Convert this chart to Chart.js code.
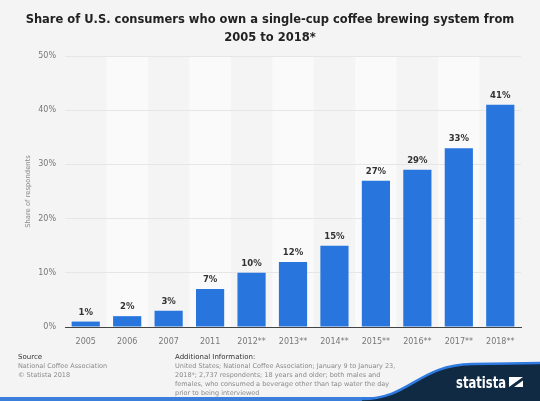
<!DOCTYPE html>
<html>
<head>
<meta charset="utf-8">
<script src="https://cdn.jsdelivr.net/npm/chart.js@4"></script>
<style>
  html, body { margin: 0; padding: 0; background: #f4f4f4; }
  #wrap { position: relative; width: 540px; height: 401px; overflow: hidden; font-family: "DejaVu Sans", sans-serif; }
  #chart { position: absolute; left: 0; top: 0; }
  #title { position: absolute; left: 0; top: 10px; width: 540px; text-align: center; font-weight: bold; font-size: 11.5px; line-height: 18px; color: #222; white-space: nowrap; }
  .foot { position: absolute; font-size: 6.5px; line-height: 9px; color: #8a8a8a; white-space: nowrap; }
  .foot b { display: block; font-weight: normal; font-size: 7px; color: #333; line-height: 10px; }
  #deco { position: absolute; left: 0; top: 0; }
</style>
</head>
<body>
<div id="wrap">
  <canvas id="chart" width="540" height="401"></canvas>
  <div id="title">Share of U.S. consumers who own a single-cup coffee brewing system from<br>2005 to 2018*</div>
  <svg id="deco" width="540" height="401" viewBox="0 0 540 401">
    <rect x="0" y="397" width="540" height="4" fill="#3b7fdc"/>
    <path d="M362 399 C410 399 418 365 472 364 L540 363 L540 401 L362 401 Z" fill="#0f2a42"/>
    <path d="M362 399 C410 399 418 365 472 364 L540 363" fill="none" stroke="#2f7ae0" stroke-width="2.5"/>
    <text x="456" y="388" fill="#fff" font-family="DejaVu Sans Condensed, DejaVu Sans" font-weight="bold" font-size="15" textLength="50" lengthAdjust="spacingAndGlyphs">statista</text>
    <rect x="509" y="377" width="14" height="10" fill="#fff"/>
    <path d="M509 387 L523 377 L523 380.5 L514 387 Z" fill="#0f2a42"/>
  </svg>
  <div class="foot" style="left:18px; top:352px;">
    <b>Source</b>
    National Coffee Association<br>© Statista 2018
  </div>
  <div class="foot" style="left:175px; top:352px;">
    <b>Additional Information:</b>
    United States; National Coffee Association; January 9 to January 23,<br>2018*; 2,737 respondents; 18 years and older; both males and<br>females, who consumed a beverage other than tap water the day<br>prior to being interviewed
  </div>
</div>
<script>
const years = ['2005', '2006', '2007', '2011', '2012**', '2013**', '2014**', '2015**', '2016**', '2017**', '2018**'];
const shares = [1, 2, 3, 7, 10, 12, 15, 27, 29, 33, 41];
const yTicks = [0, 10, 20, 30, 40, 50];

// light bands behind every other category
const bands = {
    id: 'bands',
    beforeDraw(chart) {
        const { ctx, chartArea, scales } = chart;
        const step = (chartArea.right - chartArea.left) / years.length;
        ctx.save();
        ctx.fillStyle = '#fafafa';
        years.forEach((y, i) => {
            if (i % 2 === 1) {
                const cx = scales.x.getPixelForValue(i);
                ctx.fillRect(cx - step / 2, chartArea.top, step, chartArea.bottom - chartArea.top);
            }
        });
        ctx.restore();
    },
};

// value labels above bars
const valueLabels = {
    id: 'valueLabels',
    afterDatasetsDraw(chart) {
        const { ctx } = chart;
        const meta = chart.getDatasetMeta(0);
        ctx.save();
        ctx.font = 'bold 8.5px "DejaVu Sans"';
        ctx.fillStyle = '#333';
        ctx.textAlign = 'center';
        ctx.textBaseline = 'bottom';
        meta.data.forEach((bar, i) => {
            ctx.fillText(shares[i] + '%', bar.x, bar.y - 5);
        });
        ctx.restore();
    },
};

const ctx = document.getElementById('chart').getContext('2d');
const chart = new Chart(ctx, {
    type: 'bar',
    data: {
        labels: years,
        datasets: [{
            label: 'Share of respondents',
            data: shares,
            backgroundColor: '#2876dd',
            barPercentage: 0.68,
            categoryPercentage: 1,
        }],
    },
    options: {
        responsive: false,
        animation: false,
        layout: { padding: { top: 56, left: 0, right: 19, bottom: 54 } },
        plugins: {
            legend: { display: false },
            tooltip: { enabled: false },
        },
        scales: {
            x: {
                grid: { display: false },
                border: { color: '#444', width: 1 },
                ticks: { color: '#777', font: { family: 'DejaVu Sans', size: 8 }, padding: 2, maxRotation: 0, autoSkip: false },
                afterFit: (s) => { s.height = 20; },
            },
            y: {
                min: 0,
                max: 50,
                afterBuildTicks: (s) => { s.ticks = yTicks.map(v => ({ value: v })); },
                grid: { color: '#e6e6e6', drawTicks: false },
                border: { display: false },
                ticks: { color: '#777', font: { family: 'DejaVu Sans', size: 8 }, padding: 9, callback: (v) => v + '%' },
                title: { display: true, text: 'Share of respondents', color: '#888', font: { family: 'DejaVu Sans', size: 6.8 }, padding: { top: 24, bottom: 0 } },
                afterFit: (s) => { s.width = 65; },
            },
        },
    },
    plugins: [bands, valueLabels],
});
</script>
</body>
</html>
